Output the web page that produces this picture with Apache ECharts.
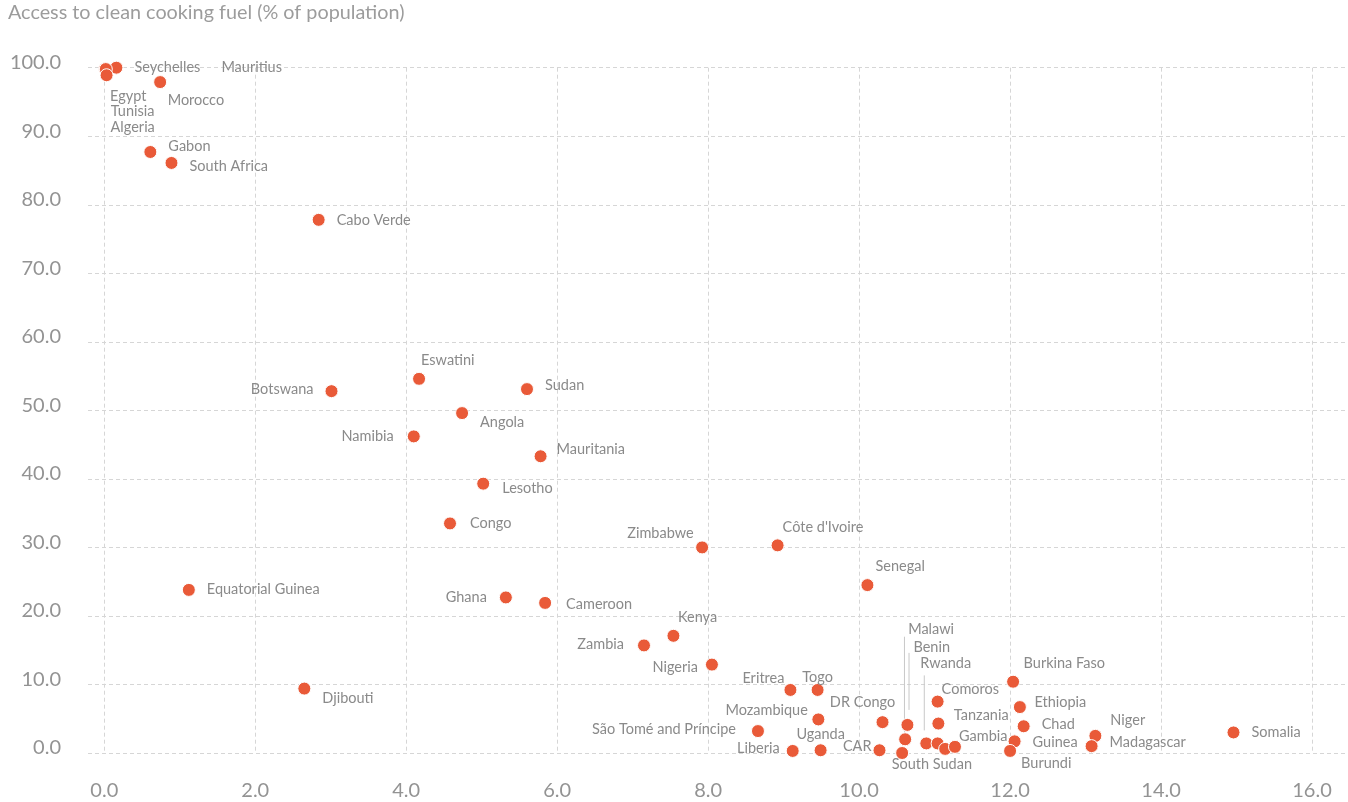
<!DOCTYPE html>
<html>
<head>
<meta charset="utf-8">
<script src="https://cdn.jsdelivr.net/npm/echarts@6/dist/echarts.min.js"></script>
<style>
html,body{margin:0;padding:0;background:#fff;}
#chart{width:1348px;height:802px;}
</style>
</head>
<body>
<div id="chart"></div>
<script>
// ---------- DATA ----------
const countries = ["Seychelles","Mauritius","Egypt","Tunisia","Algeria","Morocco","Gabon","South Africa","Cabo Verde",
  "Eswatini","Botswana","Sudan","Angola","Namibia","Mauritania","Lesotho","Congo","Zimbabwe","Côte d'Ivoire","Senegal",
  "Ghana","Cameroon","Equatorial Guinea","Djibouti","Kenya","Zambia","Nigeria","Eritrea","Togo","Mozambique",
  "São Tomé and Príncipe","Liberia","Uganda","CAR","DR Congo","South Sudan","Malawi","Benin","Rwanda","Comoros",
  "Tanzania","Mali","Sierra Leone","Gambia","Burkina Faso","Ethiopia","Chad","Guinea","Burundi","Niger","Madagascar","Somalia"];
const xValues = [0.16,0.16,0.01,0.02,0.03,0.74,0.61,0.89,2.84,
  4.17,3.01,5.60,4.74,4.10,5.78,5.02,4.58,7.92,8.92,10.11,
  5.32,5.84,1.12,2.65,7.54,7.15,8.05,9.09,9.45,9.46,
  8.66,9.12,9.49,10.27,10.31,10.57,10.61,10.64,10.89,11.04,
  11.05,11.04,11.14,11.27,12.04,12.13,12.18,12.06,12.00,13.13,13.08,14.96];
const yValues = [100.0,100.0,99.8,99.8,98.9,97.9,87.7,86.1,77.8,
  54.6,52.8,53.1,49.6,46.2,43.3,39.3,33.5,30.0,30.3,24.5,
  22.7,21.9,23.8,9.4,17.1,15.7,12.9,9.2,9.2,4.9,
  3.2,0.3,0.4,0.4,4.5,0.0,2.0,4.1,1.4,7.5,
  4.3,1.4,0.6,0.9,10.4,6.7,3.9,1.7,0.3,2.5,1.0,3.0];
const xTicks = {min: 0, max: 16, interval: 2};
const yTicks = {min: 0, max: 100, interval: 10};
const titleText = "Access to clean cooking fuel (% of population)";

// ---------- LABEL PLACEMENT (style only) ----------
const labelPlacement = {
  "Seychelles":["r",0,0], "Mauritius":["r",87,0], "Egypt":["r",-13,27], "Tunisia":["r",-13,42], "Algeria":["r",-14,52],
  "Morocco":["r",-10.5,18], "Gabon":["r",0,-6], "South Africa":["r",0,3], "Cabo Verde":["r",0,0],
  "Eswatini":["r",-16,-18], "Botswana":["l",0,-2], "Sudan":["r",0,-4], "Angola":["r",0,9], "Namibia":["l",-2,0],
  "Mauritania":["r",-2,-7], "Lesotho":["r",1,5], "Congo":["r",2,0], "Zimbabwe":["l",9.5,-14],
  "Côte d'Ivoire":["r",-13,-18], "Senegal":["r",-10,-19], "Ghana":["l",-1,0], "Cameroon":["r",3,1],
  "Equatorial Guinea":["r",0,-1], "Djibouti":["r",0,10], "Kenya":["r",-13.5,-18], "Zambia":["l",-2,-1],
  "Nigeria":["l",4,3], "Eritrea":["l",12,-12], "Togo":["t",0,7], "Mozambique":["l",7.5,-9],
  "São Tomé and Príncipe":["l",-4,-2], "Liberia":["l",5,-3], "Uganda":["t",0,4], "CAR":["l",10,-4],
  "DR Congo":["t",-20,0], "South Sudan":["r",-28.5,11], "Malawi":["r",-15,-110], "Benin":["r",-12,-78],
  "Rwanda":["r",-24,-80], "Comoros":["r",-14,-12], "Tanzania":["r",-2.5,-8], "Gambia":["r",-14,-11],
  "Burkina Faso":["r",-7.5,-18], "Ethiopia":["r",-3.5,-5], "Chad":["r",0,-2], "Guinea":["r",0,1],
  "Burundi":["r",-7,12], "Niger":["r",-3,-16], "Madagascar":["r",0,-4], "Somalia":["r",0,0]
};
// leader lines: [dx, startAbove, endAbove] in px relative to point
const leaders = {"Malawi":[-0.7,102.6,6.6], "Benin":[1.6,72,15], "Rwanda":[-2,68,13]};

const FONT = "Lato";
const TXT = "#8a8a8a";
const GRIDC = "#d6d6d6";
const DOT = "#E95A38";

const posMap = {r:"right", l:"left", t:"top"};
const scatterData = countries.map((c, i) => {
  const p = labelPlacement[c];
  const item = {name: c, value: [xValues[i], yValues[i]]};
  if (!p) {
    item.label = {show: false};
  } else {
    item.label = {show: true, position: posMap[p[0]], distance: p[0] === "t" ? 5 : 11, offset: [p[1], p[2]]};
  }
  return item;
});
const leaderNames = Object.keys(leaders);
const leaderData = leaderNames.map(n => {
  const i = countries.indexOf(n);
  return [xValues[i], yValues[i], leaderNames.indexOf(n)];
});

const chart = echarts.init(document.getElementById("chart"), null, {renderer: "canvas"});
chart.setOption({
  animation: false,
  backgroundColor: "#fff",
  textStyle: {fontFamily: FONT},
  title: {
    text: titleText, left: 8, top: 3, padding: 0,
    textStyle: {fontFamily: FONT, fontSize: 19.8, fontWeight: "normal", color: "#9c9c9c"}
  },
  grid: [
    {left: 88, right: 0, top: 67.7, bottom: 49, containLabel: false},
    {left: 104.3, width: 1207.7, top: 67.7, bottom: 49, containLabel: false}
  ],
  xAxis: [
    {gridIndex: 0, type: "value", min: 0, max: 1, show: false},
    {gridIndex: 1, type: "value", min: xTicks.min, max: xTicks.max, interval: xTicks.interval,
      axisLine: {show: false}, axisTick: {show: false},
      axisLabel: {color: "#939393", fontSize: 20, fontFamily: FONT, margin: 28, formatter: v => v.toFixed(1)},
      splitLine: {show: true, lineStyle: {color: GRIDC, type: [4, 3], width: 1}}}
  ],
  yAxis: [
    {gridIndex: 0, type: "value", min: yTicks.min, max: yTicks.max, interval: yTicks.interval,
      axisLine: {show: false}, axisTick: {show: false},
      axisLabel: {color: "#939393", fontSize: 20, fontFamily: FONT, margin: 27,
        verticalAlign: "bottom", lineHeight: 10, formatter: v => v.toFixed(1)},
      splitLine: {show: true, lineStyle: {color: GRIDC, type: [4, 3], width: 1}}},
    {gridIndex: 1, type: "value", min: yTicks.min, max: yTicks.max, interval: yTicks.interval, show: false,
      splitLine: {show: false}}
  ],
  series: [
    {
      type: "custom", xAxisIndex: 1, yAxisIndex: 1, z: 1, silent: true,
      data: leaderData,
      renderItem: function (params, api) {
        const pt = api.coord([api.value(0), api.value(1)]);
        const L = leaders[leaderNames[api.value(2)]];
        const x = pt[0] + L[0];
        return {type: "line", shape: {x1: x, y1: pt[1] - L[1], x2: x, y2: pt[1] - L[2]},
          style: {stroke: "#c8c8c8", lineWidth: 1}};
      }
    },
    {
      type: "scatter", xAxisIndex: 1, yAxisIndex: 1, z: 3, clip: false,
      symbol: "circle", symbolSize: 13,
      itemStyle: {color: DOT, borderColor: "#fff", borderWidth: 1, opacity: 1},
      label: {show: true, formatter: "{b}", color: TXT, fontSize: 14.5, fontFamily: FONT},
      data: scatterData
    }
  ]
});
</script>
</body>
</html>
